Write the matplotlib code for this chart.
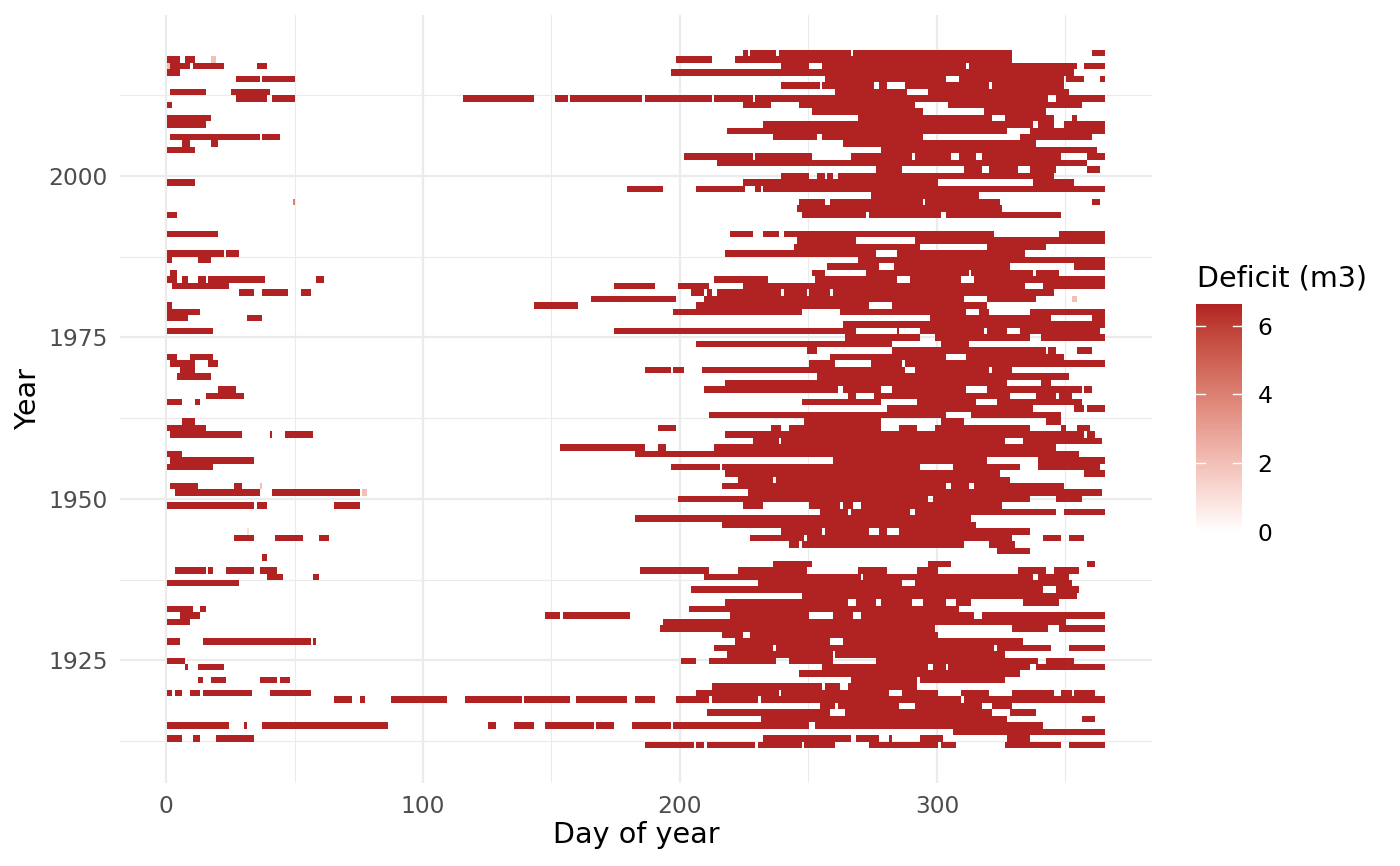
import numpy as np
import matplotlib
matplotlib.use("Agg")
import matplotlib.pyplot as plt
from matplotlib.colors import ListedColormap, to_rgb

# deficit spells per year: "start-end" days of year,
# optional ":value" when the cells are lighter than the full deficit
FIRST_YEAR = 1912
FULL_DEFICIT = 6.63

spells_1910s = [  # 1912 .. 1919
    "187-205 207-209 211-229 231-247 249-259 260 274-300 302-307 327-348 352-365",
    "1-6 11-13 20-34 233-266 269-277 282 294-302 328-333 334-336",
    "307-365",
    "1-24 31 38-86 126-128 136-143 148-166 168-174 182-196 198-250 253-341",
    "232-326 327 357-361",
    "211-258 265-321 329-338",
    "255-260 262-285 292-317 322-329",
    "66-72 76-77 88-109 117-138 140-157 160-179 183-190 199-211 213-218 219-225 226-230 232-309 311-358 359-365",
]
spells_1920s = [
    "1-2 4-6 10-13 15-33 41-46 47-56 207-238 240-277 278-281 287-300 310-320 330-340 341-345 349-352 354-361",
    "213-255 257-262 266-292",
    "13-14 18-23 37-43 45-48 267-292 294-326",
    "247-274 275-332",
    "8 13-22 256-296 299-303 305-336 339-355 356-365",
    "1-7 201-206 212-237 243-259 277-339 343-353",
    "219-259 261-326",
    "214-236 238-322 324-344 352-365",
    "1-4 5 15-56 58 222-252 253-258 264-333",
    "217-224 228-300",
]
spells_1930s = [
    "193-299 330-343 348-365",
    "1-9 194-350",
    "6-13 148-153 155-180 220-250 260-267 271-314 318-365",
    "1-10 14-15 204-300 301-308",
    "218-265 269-276 279-290 295-303 308-313 334-335 336-347",
    "248-354",
    "205-341 347-355",
    "1-28 231-286 292-352",
    "40-45 58-59 210-241 242-270 272-337 340-351",
    "4-15 17-18 24-34 37-43 185-201 202-211 223-249 270-280 293-300 332-342 346-355",
]
spells_1940s = [
    "237-251 297-305 359-361",
    "38-39",
    "324-336",
    "243-246 248-310 321-330",
    "27-34 43-53 60-63 228-248 250-329 342-348 352-357",
    "32:1 240-255 257-273 278-280 286-336",
    "217-315",
    "183-313",
    "255-265 267-289 292-346 350-365",
    "1-34 36-39 66-75 225-232 251-262 264-267 271-325",
]
spells_1950s = [
    "200-296 299-336 347-356",
    "4-36 42-75 77-78:2 227-364",
    "2-12 27-29 37:2 217-303 306-312 315-349",
    "223-236 238-328",
    "218-324 358-365",
    "1-18 197-215 217-293 307-332 340-363",
    "2-34 260-319 340-365",
    "1-6 183-209 210-247 248-355",
    "154-186 192-194 214-346",
    "229-238 240-326 334-364",
]
spells_1960s = [
    "2-29 41 47-57 218-357 359-361",
    "1-15 192-198 236-239 243-278 286-292 300-336 349-350 355-359",
    "7-11 249-278 302-310 343-348",
    "212-303 314-348",
    "281-319 320-337 354-357 359-365",
    "1-6 12-13 248-278 293-315 324-356",
    "16-30 266-268 276-328 339-346 348-352",
    "21-27 210-261 264-278 283-311 320-356 358-360",
    "218-327 341-344",
    "5-17 254-351",
]
spells_1970s = [
    "6-11 187-196 198-201 209-287 292-320 322-329",
    "2-11 17-20 251-260 275-286 288-365",
    "1-4 10-18 259-303 312-349",
    "250-253 283-327 328-342 344-346 355-360",
    "207-271 272-282 302-312",
    "265-293 300-336 341-365",
    "1-18 175-268 285 294-318 320-327 333-363",
    "264-330 331-365",
    "1-8 32-37 298-344 361-365",
    "1-13 198-247 263-311 317-320 337-365",
]
spells_1980s = [
    "1-2 144-160 207-271 272-273 283-319",
    "166-198 210-310 320-338 353-354:2",
    "29-34 38-47 53-56 205-209 211-212 215-239 241-249 251-258 260-345",
    "3-24 175-190 200-211 225-334 342-365",
    "1-4 7-8 13-15 17-38 59-61 214-234 253-284 290-309 315-365",
    "2-4 252-256 273-312 314-337 339-342 343-347",
    "258-277 284-328 354-365",
    "1-2 13-17 270-365",
    "1-22 24-28 218-276 285-334",
    "245-293 320-342",
]
spells_1990s = [
    "246-268 292-365",
    "1-18 19-20 220-228 233-238 241-322 348-365",
    "",
    "",
    "1-4 248-272 274-301 304-348",
    "246-325",
    "50:4 247-256 259-294 296-324 361-363",
    "275-287 288-316",
    "180-193 207-208 209-225 230-231 233-365",
    "1-11 225-300 338-353",
]
spells_2000s = [
    "240-250 254-256 258-259 262-310 311-345",
    "277-286 311-317 321-331 337-346 359-363",
    "215-358",
    "202-228 230-251 267-290 292-305 309-315 318-348 359-365",
    "1-11 279-362",
    "7-9 18-20 264-338",
    "2-36 38-44 237-253 256-294 333-360",
    "219-327 337-365",
    "1-15 233-337 340-345 350-365",
    "1-9 10-17 270-299 300-321 327-345 353-354",
]
spells_2010s = [
    "252-294 319-342",
    "1-2 225-235 247-291 305-356",
    "28-39 42-50 116-143 152-156 158-177 178-185 187-212 214-228 230-343 347-365",
    "2-15 26-40 261-288 297-351",
    "240-254 256-261 262-275 278-280 288-320 322-349",
    "28-36 38-50 257-303 309-349 351-357 364-365",
    "1-5 197-353",
    "1:2 2-9 11-22 36-39 240-250 256-311 313-354 358-365",
    "1-5 8-11 18-19:2 199-207 208-212 222-309 310-329",
    "225-226 228-237 239-266 268-329 361-365",
]


def parse_spells(text):
    out = []
    for tok in text.split():
        val = FULL_DEFICIT
        if ":" in tok:
            tok, v = tok.split(":")
            val = float(v)
        if "-" in tok:
            a, b = tok.split("-")
        else:
            a = b = tok
        out.append((int(a), int(b), val))
    return out


# white -> firebrick gradient interpolated in Lab, like ggplot's scale_fill_gradient
def srgb_to_lab(rgb):
    c = np.asarray(rgb, float)
    c = np.where(c <= 0.04045, c / 12.92, ((c + 0.055) / 1.055) ** 2.4)
    m = np.array([[0.4124, 0.3576, 0.1805],
                  [0.2126, 0.7152, 0.0722],
                  [0.0193, 0.1192, 0.9505]])
    xyz = m @ c / np.array([0.95047, 1.0, 1.08883])
    f = np.where(xyz > 0.008856, np.cbrt(xyz), 7.787 * xyz + 16 / 116)
    return np.array([116 * f[1] - 16, 500 * (f[0] - f[1]), 200 * (f[1] - f[2])])


def lab_to_srgb(lab):
    L, a, b = lab
    fy = (L + 16) / 116
    fx = fy + a / 500
    fz = fy - b / 200
    f = np.array([fx, fy, fz])
    xyz = np.where(f ** 3 > 0.008856, f ** 3, (f - 16 / 116) / 7.787)
    xyz = xyz * np.array([0.95047, 1.0, 1.08883])
    m = np.array([[3.2406, -1.5372, -0.4986],
                  [-0.9689, 1.8758, 0.0415],
                  [0.0557, -0.2040, 1.0570]])
    c = m @ xyz
    c = np.where(c <= 0.0031308, 12.92 * c, 1.055 * np.clip(c, 0, None) ** (1 / 2.4) - 0.055)
    return np.clip(c, 0, 1)


lab_lo = srgb_to_lab(to_rgb("white"))
lab_hi = srgb_to_lab(to_rgb("firebrick"))
ramp = [lab_to_srgb(lab_lo + t * (lab_hi - lab_lo)) for t in np.linspace(0, 1, 256)]
cmap = ListedColormap(ramp)
cmap.set_bad((1, 1, 1, 0))

all_spells = (spells_1910s + spells_1920s + spells_1930s + spells_1940s + spells_1950s
              + spells_1960s + spells_1970s + spells_1980s + spells_1990s
              + spells_2000s + spells_2010s)
years = np.arange(FIRST_YEAR, FIRST_YEAR + len(all_spells))

grid = np.full((len(years), 365), np.nan)
for i, text in enumerate(all_spells):
    for a, b, v in parse_spells(text):
        grid[i, a - 1:b] = v

fig = plt.figure(figsize=(14, 8.66), dpi=100)
ax = fig.add_axes([0.086, 0.0963, 0.737, 0.8863])

im = ax.imshow(np.ma.masked_invalid(grid), cmap=cmap, vmin=0, vmax=FULL_DEFICIT,
               origin="lower", aspect="auto", interpolation="nearest",
               extent=(0.5, 365.5, years[0] - 0.5, years[-1] + 0.5), zorder=2)

ax.set_xlim(-17.75, 383.75)
ax.set_ylim(1906.1, 2024.9)
ax.set_xticks([0, 100, 200, 300])
ax.set_xticks([50, 150, 250, 350], minor=True)
ax.set_yticks([1925, 1950, 1975, 2000])
ax.set_yticks([1912.5, 1937.5, 1962.5, 1987.5, 2012.5], minor=True)
ax.grid(which="major", color="#EBEBEB", lw=1.6)
ax.grid(which="minor", color="#EBEBEB", lw=0.8)
ax.set_axisbelow(True)
for s in ax.spines.values():
    s.set_visible(False)
ax.tick_params(which="both", length=0)
ax.tick_params(labelsize=16.8, labelcolor="#4D4D4D", pad=9)

ax.set_xlabel("Day of year", fontsize=20.6)
ax.xaxis.set_label_coords(0.5, -0.068)
ax.xaxis.label.set_va("center")
ax.set_ylabel("Year", fontsize=20.6)
ax.yaxis.set_label_coords(-0.0896, 0.5)
ax.yaxis.label.set_va("center")

# colour bar
cax = fig.add_axes([0.8543, 0.386, 0.0331, 0.263])
cb = fig.colorbar(im, cax=cax, ticks=[0, 2, 4, 6])
cb.outline.set_visible(False)
cax.tick_params(length=0, labelsize=16.8, pad=11, labelcolor="black")
for v in [2, 4, 6]:
    cax.axhline(v, 0, 0.2, color="white", lw=1)
    cax.axhline(v, 0.8, 1, color="white", lw=1)
fig.text(1197 / 1400, 1 - 287 / 866, "Deficit (m3)", fontsize=20.6,
         ha="left", va="baseline")

fig.savefig("out.png", dpi=100)
